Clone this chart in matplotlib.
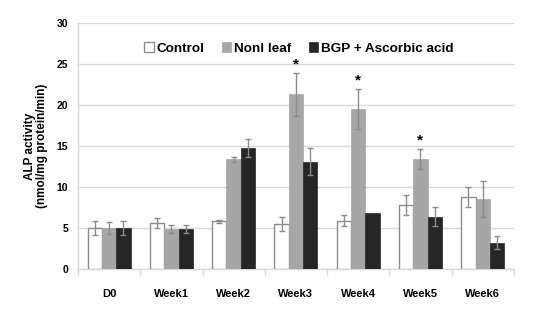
import numpy as np
import matplotlib.pyplot as plt

plt.rcParams['font.family'] = ['Liberation Sans', 'DejaVu Sans']

groups = ["D0", "Week1", "Week2", "Week3", "Week4", "Week5", "Week6"]
control = [5.0, 5.6, 5.8, 5.5, 5.9, 7.8, 8.8]
control_err = [0.8, 0.6, 0.2, 0.9, 0.7, 1.2, 1.2]
nonl = [5.0, 4.9, 13.4, 21.3, 19.5, 13.4, 8.5]
nonl_err = [0.7, 0.5, 0.3, 2.6, 2.4, 1.2, 2.2]
bgp = [5.0, 4.9, 14.7, 13.1, 6.8, 6.4, 3.2]
bgp_err = [0.8, 0.5, 1.1, 1.6, 0.0, 1.2, 0.8]
stars = [False, False, False, True, True, True, False]

fig = plt.figure(figsize=(5.38, 3.10), dpi=100)
ax = fig.add_axes([0.145, 0.132, 0.81, 0.794])

x = np.arange(len(groups))
w = 0.23
ekw = dict(ecolor="#8c8c8c", elinewidth=1.0, capsize=2.2, capthick=1.0)

ax.bar(x - w, control, w, yerr=control_err, color="white", edgecolor="#8c8c8c",
       linewidth=1.0, label="Control", error_kw=ekw, zorder=3)
ax.bar(x, nonl, w, yerr=nonl_err, color="#a6a6a6", edgecolor="#a6a6a6",
       linewidth=0.5, label="Nonl leaf", error_kw=ekw, zorder=3)
ax.bar(x + w, bgp, w, yerr=[e if e > 0 else np.nan for e in bgp_err],
       color="#262626", edgecolor="#262626", linewidth=0.5,
       label="BGP + Ascorbic acid", error_kw=ekw, zorder=3)

for i, s in enumerate(stars):
    if s:
        ax.text(x[i], nonl[i] + nonl_err[i] + 0.2, "*", ha="center", va="bottom",
                fontsize=11, fontweight="bold")

ax.set_ylim(0, 30)
ax.set_xlim(-0.5, len(groups) - 0.5)
ax.set_yticks(np.arange(0, 31, 5))
ax.yaxis.grid(True, color="#d9d9d9", linewidth=1.0, zorder=0)
ax.set_axisbelow(True)
ax.set_xticks(x)
ax.set_xticklabels(groups, fontsize=8, fontweight="bold")
ax.set_xticks(np.arange(-0.5, len(groups), 1), minor=True)
ax.tick_params(axis="x", which="major", length=0, pad=14)
ax.tick_params(axis="x", which="minor", length=4, color="#d9d9d9", width=1.0)
ax.tick_params(axis="y", length=0, labelsize=7.5, pad=7)
for lbl in ax.get_yticklabels():
    lbl.set_fontweight("bold")

for side in ["top", "right"]:
    ax.spines[side].set_visible(False)
for side in ["left", "bottom"]:
    ax.spines[side].set_color("#d9d9d9")
    ax.spines[side].set_linewidth(1.0)

ax.set_ylabel("ALP activity\n(nmol/mg protein/min)", fontsize=8.5, fontweight="bold",
              linespacing=1.0, labelpad=6)

leg = ax.legend(loc="upper center", bbox_to_anchor=(0.507, 0.97), ncol=3, frameon=False,
                prop={"weight": "bold", "size": 9.7}, handlelength=0.7, handleheight=0.7,
                handletextpad=0.2, columnspacing=1.3)

fig.savefig("out.png", dpi=100)
